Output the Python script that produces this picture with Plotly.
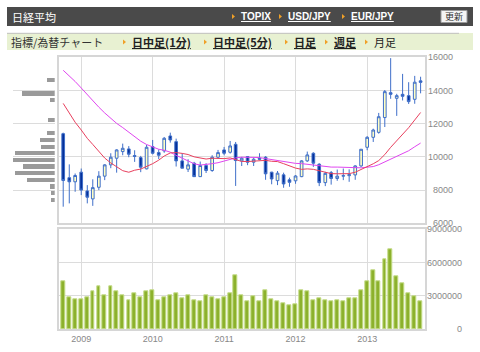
import plotly.graph_objects as go

W, H = 480, 352

months = [f"{y}-{m:02d}-01" for y in range(2008, 2014) for m in range(1, 13)]
months = months[months.index("2008-10-01"):months.index("2013-10-01") + 1]

opens = [11400, 8750, 8500, 9080, 7950, 7470, 8170, 8840, 9520, 9920, 10320, 10480,
         10080, 9960, 9280, 10620, 10260, 10360, 11260, 10920, 9760, 9260, 9620, 8810,
         9480, 9180, 9980, 10420, 10280, 10760, 9760, 10020, 9680, 9920, 9980, 9080,
         8570, 8920, 8620, 8560, 8810, 9760, 10220, 9560, 8450, 9050, 8700, 8840,
         8870, 8915, 9456, 10580, 11180, 11480, 12370, 13870, 13530, 13770, 13690, 13470, 14580]
highs = [11460, 9550, 9000, 9300, 8300, 8650, 9140, 9560, 10220, 10460, 10800, 10650,
         10400, 10060, 10720, 11020, 10450, 11200, 11460, 11100, 10220, 9860, 9700, 9720,
         9620, 10100, 10420, 10600, 10960, 10900, 10000, 10050, 9950, 10220, 10050, 9100,
         9150, 9050, 8750, 8900, 9800, 10320, 10280, 9620, 9100, 9150, 9240, 9300,
         9250, 9500, 10460, 11250, 11700, 12650, 14030, 15950, 13800, 15000, 14500, 14880, 14830]
lows = [7000, 7200, 7900, 7700, 7200, 7050, 8000, 8600, 9320, 9050, 10100, 9980,
        9700, 9080, 9250, 10150, 9870, 10250, 10860, 9420, 9320, 9090, 8800, 8790,
        9030, 9100, 9900, 10100, 10200, 8250, 9450, 9500, 9450, 9800, 8620, 8350,
        8300, 8140, 8200, 8380, 8780, 9700, 9400, 8240, 8240, 8330, 8560, 8600,
        8500, 8620, 9400, 10400, 10900, 11400, 11800, 13500, 12470, 13400, 13190, 13200, 13830]
closes = [8580, 8500, 8880, 8000, 7570, 8150, 8840, 9520, 9980, 10420, 10520, 10160,
          10030, 9380, 10580, 10220, 10100, 11120, 11020, 9760, 9320, 9520, 8810, 9480,
          9180, 9980, 10260, 10220, 10660, 9780, 9920, 9680, 9860, 9860, 8980, 8670,
          9020, 8370, 8470, 8850, 9760, 10120, 9620, 8450, 9010, 8700, 8840, 8870,
          8930, 9456, 10460, 11180, 11620, 12420, 13930, 13770, 13690, 13650, 13330, 14500, 14490]

ma_12 = [13222, 12624, 12087, 11621, 11118, 10750, 10331, 9930, 9636, 9385, 9170, 9076,
         9198, 9267, 9408, 9591, 9804, 10053, 10239, 10259, 10211, 10143, 10004, 9940,
         9871, 9920, 9893, 9897, 9938, 9827, 9726, 9720, 9756, 9781, 9792, 9736,
         9718, 9593, 9445, 9326, 9251, 9278, 9251, 9155, 9087, 8992, 8983, 8997,
         8992, 9076, 9238, 9433, 9586, 9778, 10140, 10576, 10965, 11380, 11759, 12224, 12674]
ma_24 = [15216, 14893, 14544, 14153, 13735, 13352, 12995, 12647, 12306, 12019, 11766, 11489,
         11210, 10946, 10747, 10606, 10461, 10401, 10285, 10095, 9924, 9764, 9587, 9508,
         9534, 9593, 9650, 9744, 9871, 9940, 9982, 9990, 9984, 9962, 9898, 9838,
         9794, 9756, 9669, 9611, 9594, 9553, 9489, 9437, 9422, 9387, 9387, 9367,
         9355, 9335, 9342, 9379, 9418, 9528, 9695, 9865, 10026, 10186, 10371, 10611, 10833]

volumes = [4290000, 2880000, 2700000, 2700000, 2880000, 3420000, 3870000, 3060000, 3870000, 3420000,
           3000000, 2600000, 3180000, 2820000, 3360000, 3480000, 2580000, 2880000, 3060000, 3240000,
           2760000, 3000000, 2600000, 2520000, 3000000, 2820000, 2700000, 2820000, 3180000, 4860000,
           3030000, 2520000, 2940000, 2520000, 3480000, 2700000, 2460000, 2340000, 2130000, 2190000,
           3480000, 3360000, 2600000, 2760000, 2600000, 2520000, 2600000, 2460000, 2790000, 2730000,
           3480000, 4350000, 5340000, 4290000, 6270000, 7200000, 4770000, 4170000, 3180000, 2940000, 2460000]

profile_prices = [14600, 13800, 13400, 12200, 11400, 11000, 10600, 10200, 9800, 9400, 9000, 8600, 8200, 7800, 7400]
profile_values = [8, 32.7, 4.7, 6.7, 8, 15, 13.7, 39.7, 41.7, 32, 39.7, 28, 5.3, 4, 4]

price_ticks = [6000, 8000, 10000, 12000, 14000, 16000]
volume_ticks = [0, 3000000, 6000000, 9000000]

header_title = "日経平均"
header_links = ["TOPIX", "USD/JPY", "EUR/JPY"]
header_link_x = [239, 286, 349]
refresh_label = "更新"
sub_title = "指標/為替チャート"
sub_links = ["日中足(1分)", "日中足(5分)", "日足", "週足", "月足"]
sub_link_x = [130, 211, 292, 332, 372]


def px(x):
    return x / W


def py(y):
    return 1 - y / H


JP = "Noto Sans CJK JP, sans-serif"
TICK_FONT = dict(family="Liberation Sans, Arial, sans-serif", size=9, color="#888888")
GRID = "#dcdcdc"
FRAME = "#d6d6d6"

fig = go.Figure()

fig.add_trace(go.Candlestick(
    x=months, open=opens, high=highs, low=lows, close=closes,
    increasing=dict(line=dict(color="#3f6fc9", width=1), fillcolor="#ffffc4"),
    decreasing=dict(line=dict(color="#3f6fc9", width=1), fillcolor="#05309a"),
    whiskerwidth=0, xaxis="x", yaxis="y", showlegend=False, hoverinfo="skip"))

fig.add_trace(go.Scatter(x=months, y=ma_24, mode="lines", line=dict(color="#e046f0", width=1),
                         xaxis="x", yaxis="y", showlegend=False, hoverinfo="skip"))
fig.add_trace(go.Scatter(x=months, y=ma_12, mode="lines", line=dict(color="#e8405e", width=1),
                         xaxis="x", yaxis="y", showlegend=False, hoverinfo="skip"))

fig.add_trace(go.Bar(x=months, y=volumes, marker=dict(color="#8cb12c", line=dict(color="#c4dc86", width=1)),
                     width=20 * 86400000, xaxis="x2", yaxis="y2", showlegend=False, hoverinfo="skip"))

fig.add_trace(go.Bar(y=profile_prices, x=profile_values, orientation="h", width=250,
                     marker=dict(color="#9a9a9a", line=dict(width=0)),
                     xaxis="x3", yaxis="y", showlegend=False, hoverinfo="skip"))

x_range = ["2008-09-11", "2013-10-25"]
x_left, x_right = 59.3, 425.3
p_top, p_bot = 57.3, 223.3
v_top, v_bot = 229.3, 329

common_x = dict(type="date", range=x_range, dtick="M12", tick0="2009-01-01", showgrid=True,
                gridcolor=GRID, gridwidth=1, showline=True, linecolor=FRAME, linewidth=2, mirror=True,
                ticks="", zeroline=False, domain=[px(x_left), px(x_right)])

fig.update_layout(
    width=W, height=H, margin=dict(l=0, r=0, t=0, b=0),
    paper_bgcolor="white", plot_bgcolor="white", bargap=0,
    xaxis=dict(common_x, anchor="y", showticklabels=False, rangeslider=dict(visible=False)),
    yaxis=dict(range=[6000, 16000], domain=[py(p_bot), py(p_top)], dtick=2000, showgrid=True,
               gridcolor=GRID, showline=True, linecolor=FRAME, linewidth=2, mirror=True,
               showticklabels=False, zeroline=False, anchor="x", fixedrange=True),
    xaxis2=dict(common_x, anchor="y2", showticklabels=True, tickfont=TICK_FONT, tickformat="%Y"),
    yaxis2=dict(range=[0, 9000000], domain=[py(v_bot), py(v_top)], dtick=3000000, showgrid=True,
                gridcolor=GRID, showline=True, linecolor=FRAME, linewidth=2, mirror=True,
                showticklabels=False, zeroline=False, anchor="x2"),
    xaxis3=dict(range=[42, 0], domain=[px(12.7), px(54.7)], visible=False, anchor="y"),
)

annotations = []
for v in price_ticks:
    annotations.append(dict(x=px(455), y=v, xref="paper", yref="y", text=str(v), showarrow=False,
                            xanchor="right", yanchor="middle", font=TICK_FONT))
for v in volume_ticks:
    annotations.append(dict(x=px(464), y=v, xref="paper", yref="y2", text=str(v), showarrow=False,
                            xanchor="right", yanchor="middle", font=TICK_FONT))

shapes = []
# header bar
shapes.append(dict(type="rect", xref="paper", yref="paper", x0=px(7), x1=px(473), y0=py(26), y1=py(7),
                   fillcolor="#4a4a4a", line=dict(width=0), layer="below"))
annotations.append(dict(x=px(10), y=py(16.5), xref="paper", yref="paper", text=header_title, showarrow=False,
                        xanchor="left", yanchor="middle", font=dict(family=JP, size=11, color="white")))


def marker(x, y):
    return dict(type="path", xref="paper", yref="paper",
                path=f"M {px(x)} {py(y - 2.5)} L {px(x + 3)} {py(y)} L {px(x)} {py(y + 2.5)} Z",
                fillcolor="#f0a028", line=dict(width=0))


for t, x in zip(header_links, header_link_x):
    shapes.append(marker(x - 7, 16.5))
    annotations.append(dict(x=px(x), y=py(16.5), xref="paper", yref="paper", text=f"<u><b>{t}</b></u>",
                            showarrow=False, xanchor="left", yanchor="middle",
                            font=dict(family="Liberation Sans, Arial, sans-serif", size=10, color="white")))
# refresh button
shapes.append(dict(type="rect", xref="paper", yref="paper", x0=px(441), x1=px(467), y0=py(22.5), y1=py(10.5),
                   fillcolor="#f4f4f4", line=dict(color="#9a9a9a", width=1)))
annotations.append(dict(x=px(454), y=py(16.5), xref="paper", yref="paper", text=refresh_label, showarrow=False,
                        xanchor="center", yanchor="middle", font=dict(family=JP, size=9, color="#333333")))

# sub bar
shapes.append(dict(type="rect", xref="paper", yref="paper", x0=px(7), x1=px(473), y0=py(50), y1=py(33),
                   fillcolor="#e8f1d2", line=dict(width=0), layer="below"))
shapes.append(dict(type="line", xref="paper", yref="paper", x0=px(7), x1=px(459), y0=py(33.3), y1=py(33.3),
                   line=dict(color="#c0c0c0", width=1)))
annotations.append(dict(x=px(9), y=py(42), xref="paper", yref="paper", text=sub_title, showarrow=False,
                        xanchor="left", yanchor="middle", font=dict(family=JP, size=11, color="#333333")))
for i, (t, x) in enumerate(zip(sub_links, sub_link_x)):
    shapes.append(marker(x - 7, 42))
    label = t if i == len(sub_links) - 1 else f"<u><b>{t}</b></u>"
    annotations.append(dict(x=px(x), y=py(42), xref="paper", yref="paper", text=label, showarrow=False,
                            xanchor="left", yanchor="middle", font=dict(family=JP, size=11, color="#222222")))

fig.update_layout(shapes=shapes, annotations=annotations)
fig.write_html("out.html")
